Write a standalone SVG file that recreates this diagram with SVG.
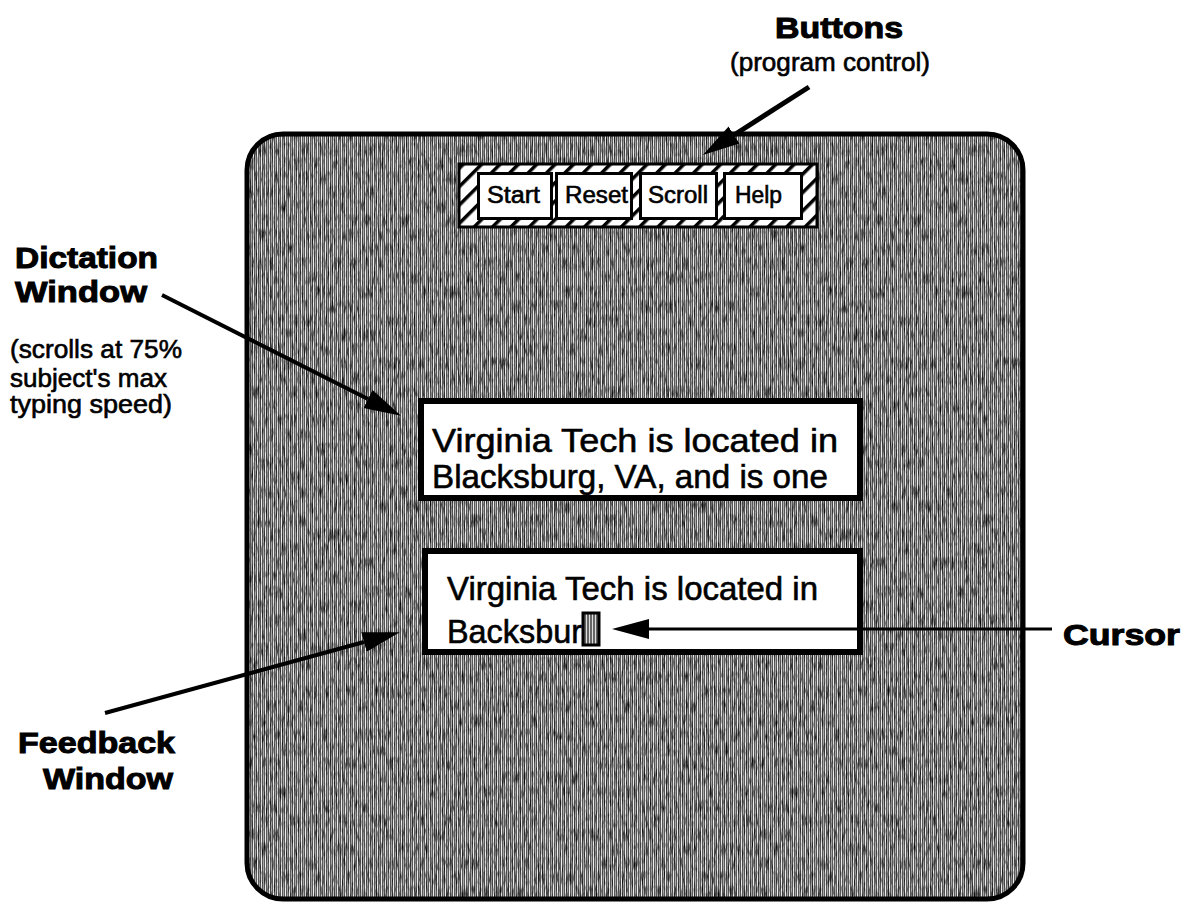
<svg xmlns="http://www.w3.org/2000/svg" width="1196" height="905" viewBox="0 0 1196 905">
  <defs>
    <style>
      .lbl { font-family: "Liberation Sans", Arial, Helvetica, sans-serif; fill: #000; stroke: #000; stroke-width: 0.6; }
      .head { font-size: 30px; font-weight: bold; stroke-width: 1; }
      .note { font-size: 25px; }
      .btn-text { font-size: 23px; }
      .win-text { font-size: 34px; }
      .fb-text { font-size: 32.5px; }
      .frame { stroke: #000; }
      .btn { fill: #fff; stroke: #000; stroke-width: 3; }
      .pane { fill: #fff; stroke: #000; stroke-width: 6; }
      .conn { stroke: #000; fill: none; }
    </style>

    <!-- vertical raster of the screen background -->
    <pattern id="raster" patternUnits="userSpaceOnUse" width="4" height="4">
      <rect width="4" height="4" fill="#585858"/>
      <rect x="1" width="1" height="4" fill="#ededed"/>
      <rect x="3" width="1" height="4" fill="#a8a8a8"/>
    </pattern>

    <!-- diagonal hatch around the button bar -->
    <pattern id="hatch" patternUnits="userSpaceOnUse" width="13" height="13" patternTransform="rotate(45)">
      <rect width="13" height="13" fill="#fff"/>
      <rect width="3.5" height="13" fill="#000"/>
    </pattern>

    <!-- cursor block texture -->
    <pattern id="cursorTex" patternUnits="userSpaceOnUse" width="3" height="3">
      <rect width="3" height="3" fill="#666"/>
      <rect x="1" width="1" height="3" fill="#ddd"/>
    </pattern>

    <!-- dark speckles over the raster -->
    <filter id="speckle" x="0" y="0" width="100%" height="100%">
      <feTurbulence type="fractalNoise" baseFrequency="0.5 0.07" numOctaves="3" seed="7"/>
      <feColorMatrix type="matrix" values="0 0 0 0 0  0 0 0 0 0  0 0 0 0 0  2.4 0 0 0 -1.15"/>
    </filter>

    <clipPath id="screenClip">
      <rect x="247" y="134" width="776" height="765" rx="36"/>
    </clipPath>

    <marker id="arrow" markerUnits="userSpaceOnUse" viewBox="0 -12 40 24" markerWidth="40" markerHeight="24" refX="0" refY="0" orient="auto">
      <path d="M0,-10 L37,0 L0,10 Z" fill="#000"/>
    </marker>
  </defs>

  <rect width="1196" height="905" fill="#fff"/>

  <!-- screen -->
  <g id="screen">
    <g clip-path="url(#screenClip)">
      <rect x="247" y="134" width="776" height="765" fill="url(#raster)"/>
      <rect x="247" y="134" width="776" height="765" filter="url(#speckle)"/>
    </g>
    <rect class="frame" x="247" y="134" width="776" height="765" rx="36" fill="none" stroke-width="5"/>
  </g>

  <!-- button bar -->
  <g id="buttons">
    <rect x="459" y="164" width="358" height="63" fill="url(#hatch)" stroke="#000" stroke-width="3"/>
    <rect class="btn" x="478.5" y="173.5" width="73" height="45"/>
    <rect class="btn" x="556.5" y="173.5" width="75" height="45"/>
    <rect class="btn" x="640.5" y="173.5" width="76" height="45"/>
    <rect class="btn" x="724.5" y="173.5" width="77" height="45"/>
    <text class="lbl btn-text" x="487" y="203" textLength="53" lengthAdjust="spacingAndGlyphs">Start</text>
    <text class="lbl btn-text" x="565" y="203" textLength="63" lengthAdjust="spacingAndGlyphs">Reset</text>
    <text class="lbl btn-text" x="648" y="203" textLength="60" lengthAdjust="spacingAndGlyphs">Scroll</text>
    <text class="lbl btn-text" x="735" y="203" textLength="47" lengthAdjust="spacingAndGlyphs">Help</text>
  </g>

  <!-- dictation pane -->
  <g id="dictation-window">
    <rect class="pane" x="421" y="401" width="439" height="97"/>
    <text class="lbl win-text" x="432" y="452" textLength="406" lengthAdjust="spacingAndGlyphs">Virginia Tech is located in</text>
    <text class="lbl win-text" x="432" y="488" textLength="396" lengthAdjust="spacingAndGlyphs">Blacksburg, VA, and is one</text>
  </g>

  <!-- feedback pane -->
  <g id="feedback-window">
    <rect class="pane" x="425" y="551" width="435" height="101"/>
    <text class="lbl fb-text" x="447" y="600" textLength="371" lengthAdjust="spacingAndGlyphs">Virginia Tech is located in</text>
    <text class="lbl fb-text" x="447" y="643" textLength="135" lengthAdjust="spacingAndGlyphs">Backsbur</text>
    <rect id="cursor-block" x="583" y="613" width="16" height="32" fill="url(#cursorTex)" stroke="#000" stroke-width="3"/>
  </g>

  <!-- labels -->
  <g id="label-buttons">
    <text class="lbl head" x="775" y="38" textLength="128" lengthAdjust="spacingAndGlyphs">Buttons</text>
    <text class="lbl note" x="730" y="71" textLength="200" lengthAdjust="spacingAndGlyphs">(program control)</text>
  </g>
  <g id="label-dictation">
    <text class="lbl head" x="15" y="268" textLength="143" lengthAdjust="spacingAndGlyphs">Dictation</text>
    <text class="lbl head" x="15" y="302" textLength="132" lengthAdjust="spacingAndGlyphs">Window</text>
    <text class="lbl note" x="10" y="358" textLength="172" lengthAdjust="spacingAndGlyphs">(scrolls at 75%</text>
    <text class="lbl note" x="10" y="387" textLength="157" lengthAdjust="spacingAndGlyphs">subject's max</text>
    <text class="lbl note" x="10" y="413" textLength="162" lengthAdjust="spacingAndGlyphs">typing speed)</text>
  </g>
  <g id="label-feedback">
    <text class="lbl head" x="18" y="753" textLength="157" lengthAdjust="spacingAndGlyphs">Feedback</text>
    <text class="lbl head" x="43" y="789" textLength="130" lengthAdjust="spacingAndGlyphs">Window</text>
  </g>
  <g id="label-cursor">
    <text class="lbl head" x="1063" y="645" textLength="117" lengthAdjust="spacingAndGlyphs">Cursor</text>
  </g>

  <!-- connectors -->
  <g id="connectors">
    <line class="conn" x1="809" y1="87" x2="734" y2="135" stroke-width="5" marker-end="url(#arrow)"/>
    <line class="conn" x1="162" y1="295" x2="368" y2="399" stroke-width="4" marker-end="url(#arrow)"/>
    <line class="conn" x1="105" y1="713" x2="364" y2="642" stroke-width="4" marker-end="url(#arrow)"/>
    <line class="conn" x1="1052" y1="629" x2="649" y2="629" stroke-width="3" marker-end="url(#arrow)"/>
  </g>
</svg>
